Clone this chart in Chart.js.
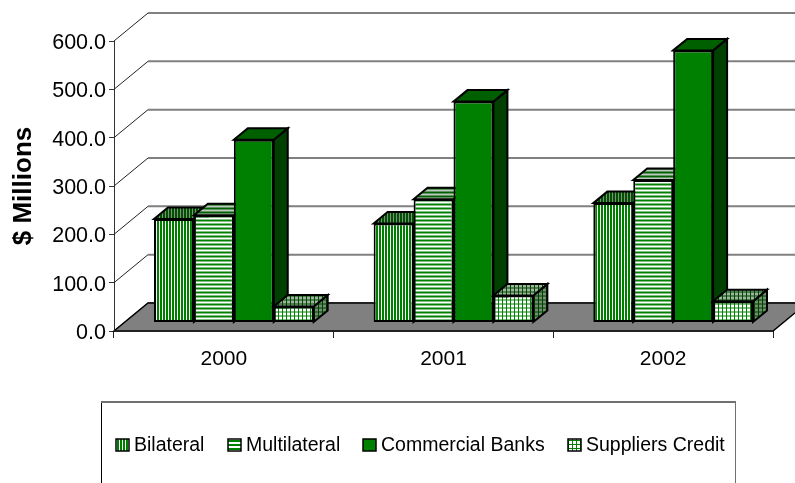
<!DOCTYPE html>
<html>
<head>
<meta charset="utf-8">
<title>$ Millions</title>
<script src="https://cdn.jsdelivr.net/npm/chart.js@4/dist/chart.umd.min.js"></script>
<style>
html, body { margin: 0; padding: 0; background: #fff; }
canvas { display: block; }
</style>
</head>
<body>
<canvas id="bar-chart" width="795" height="483"></canvas>
<script>
var years = ["2000", "2001", "2002"];
var seriesNames = ["Bilateral", "Multilateral", "Commercial Banks", "Suppliers Credit"];
var bilateral = [214, 205, 247];
var multilateral = [222, 255, 295];
var commercialBanks = [378, 457, 563];
var suppliersCredit = [33, 56, 44];
var yTicks = [0, 100, 200, 300, 400, 500, 600];

var FONT = '"Liberation Sans", Arial, sans-serif';
var GREEN = "#008000";

// floor depth and where the boxes sit on it
var DEPTH_X = 34, DEPTH_Y = -28;
var BAR_X = 10, BAR_Y = -8.5;
var BOX_X = 14, BOX_Y = -11.5;

function hatch(kind, fg, bg) {
    var size = kind === "vertical" ? 3 : 4;
    var c = document.createElement("canvas");
    c.width = c.height = size;
    var g = c.getContext("2d");
    g.fillStyle = bg;
    g.fillRect(0, 0, size, size);
    g.fillStyle = fg;
    if (kind === "vertical") g.fillRect(0, 0, 2, size);
    if (kind === "horizontal") g.fillRect(0, 0, size, 2);
    if (kind === "grid") {
        g.fillRect(0, 0, 1, size);
        g.fillRect(0, 0, size, 1);
    }
    return g.createPattern(c, "repeat");
}

var fronts = [
    hatch("vertical", GREEN, "#ffffff"),
    hatch("horizontal", GREEN, "#ffffff"),
    GREEN,
    hatch("grid", GREEN, "#ffffff")
];
var tops = [
    hatch("vertical", "#005000", "#809080"),
    hatch("horizontal", "#006000", "#c0c8c0"),
    "#006000",
    hatch("grid", "#004800", "#a0b4a0")
];
var sides = [
    hatch("vertical", "#004000", "#80a080"),
    hatch("horizontal", "#004000", "#80a080"),
    "#004000",
    hatch("grid", "#004000", "#70906f")
];

function polygon(ctx, pts, fill, stroke, width) {
    ctx.beginPath();
    ctx.moveTo(pts[0][0], pts[0][1]);
    for (var i = 1; i < pts.length; i++) ctx.lineTo(pts[i][0], pts[i][1]);
    ctx.closePath();
    if (fill) {
        ctx.fillStyle = fill;
        ctx.fill();
    }
    if (stroke) {
        ctx.strokeStyle = stroke;
        ctx.lineWidth = width;
        ctx.stroke();
    }
}

var scene3d = {
    id: "scene3d",
    beforeDatasetsDraw: function (chart) {
        var ctx = chart.ctx, area = chart.chartArea, y = chart.scales.y;
        ctx.save();
        // back wall lines and the diagonals running back from the axis
        yTicks.forEach(function (t) {
            var py = y.getPixelForValue(t);
            ctx.strokeStyle = "#808080";
            ctx.lineWidth = 2;
            ctx.beginPath();
            ctx.moveTo(area.left + DEPTH_X, py + DEPTH_Y);
            ctx.lineTo(chart.width, py + DEPTH_Y);
            ctx.stroke();
            ctx.strokeStyle = "#222";
            ctx.lineWidth = 1;
            ctx.beginPath();
            ctx.moveTo(area.left, py);
            ctx.lineTo(area.left + DEPTH_X, py + DEPTH_Y);
            ctx.stroke();
        });
        // floor
        polygon(ctx, [
            [area.left, area.bottom],
            [area.right, area.bottom],
            [area.right + DEPTH_X, area.bottom + DEPTH_Y],
            [area.left + DEPTH_X, area.bottom + DEPTH_Y]
        ], "#808080", "#000", 1.5);
        ctx.strokeStyle = "#222";
        ctx.lineWidth = 2;
        ctx.beginPath();
        ctx.moveTo(area.left, area.bottom);
        ctx.lineTo(area.right, area.bottom);
        ctx.stroke();
        ctx.restore();
    },
    // the library paints datasets last to first, boxes need first to last
    beforeDatasetDraw: function () {
        return false;
    },
    afterDatasetsDraw: function (chart) {
        var ctx = chart.ctx;
        ctx.save();
        ctx.translate(BAR_X, BAR_Y);
        chart.data.datasets.forEach(function (ds, i) {
            chart.getDatasetMeta(i).data.forEach(function (bar) {
                var l = bar.x - bar.width / 2, r = bar.x + bar.width / 2;
                var t = bar.y, b = bar.base;
                polygon(ctx, [[r, t], [r + BOX_X, t + BOX_Y], [r + BOX_X, b + BOX_Y], [r, b]], sides[i], "#000", 2);
                polygon(ctx, [[l, t], [l + BOX_X, t + BOX_Y], [r + BOX_X, t + BOX_Y], [r, t]], tops[i], "#000", 2);
                bar.draw(ctx);
            });
        });
        ctx.restore();
    },
    afterDraw: function (chart) {
        var ctx = chart.ctx;
        ctx.save();
        // legend frame runs off the bottom edge
        ctx.fillStyle = "#000";
        ctx.fillRect(101, 402, 1, 81);
        ctx.fillStyle = "#707070";
        ctx.fillRect(101, 401, 635, 2);
        ctx.fillRect(735, 401, 1, 82);

        var swatchX = [116, 228, 363, 568];
        ctx.font = "19.5px " + FONT;
        ctx.textBaseline = "middle";
        seriesNames.forEach(function (name, i) {
            ctx.fillStyle = "#fff";
            ctx.fillRect(swatchX[i], 439, 13, 12);
            ctx.fillStyle = fronts[i];
            ctx.fillRect(swatchX[i], 439, 13, 12);
            ctx.strokeStyle = "#000";
            ctx.lineWidth = 1.5;
            ctx.strokeRect(swatchX[i], 439, 13, 12);
            ctx.fillStyle = "#000";
            ctx.fillText(name, swatchX[i] + 18, 446);
        });
        ctx.restore();
    }
};

new Chart(document.getElementById("bar-chart"), {
    type: "bar",
    plugins: [scene3d],
    data: {
        labels: years,
        datasets: [
            { label: seriesNames[0], data: bilateral, backgroundColor: fronts[0] },
            { label: seriesNames[1], data: multilateral, backgroundColor: fronts[1] },
            { label: seriesNames[2], data: commercialBanks, backgroundColor: fronts[2] },
            { label: seriesNames[3], data: suppliersCredit, backgroundColor: fronts[3] }
        ]
    },
    options: {
        responsive: false,
        animation: false,
        layout: { padding: { top: 41, right: 22, left: 0, bottom: 0 } },
        datasets: {
            bar: {
                categoryPercentage: 0.727,
                barPercentage: 1,
                borderColor: "#000",
                borderWidth: 2,
                borderSkipped: false
            }
        },
        plugins: {
            legend: { display: false },
            tooltip: { enabled: false }
        },
        scales: {
            x: {
                afterFit: function (scale) { scale.height = 152; },
                border: { color: "#222", width: 1 },
                grid: { drawOnChartArea: false, tickLength: 7, color: "#222" },
                ticks: { color: "#000", padding: 9, maxRotation: 0, font: { family: FONT, size: 21 } }
            },
            y: {
                min: 0,
                max: 600,
                afterFit: function (scale) { scale.width = 114; },
                afterBuildTicks: function (scale) {
                    scale.ticks = yTicks.map(function (v) { return { value: v }; });
                },
                border: { color: "#333", width: 1 },
                grid: { drawOnChartArea: false, tickLength: 5, color: "#333" },
                title: {
                    display: true,
                    text: "$ Millions",
                    color: "#000",
                    padding: { top: 8, bottom: 0 },
                    font: { family: FONT, size: 26, weight: "bold" }
                },
                ticks: {
                    color: "#000",
                    padding: 3,
                    labelOffset: 2,
                    font: { family: FONT, size: 21.5 },
                    callback: function (v) { return v.toFixed(1); }
                }
            }
        }
    }
});
</script>
</body>
</html>
